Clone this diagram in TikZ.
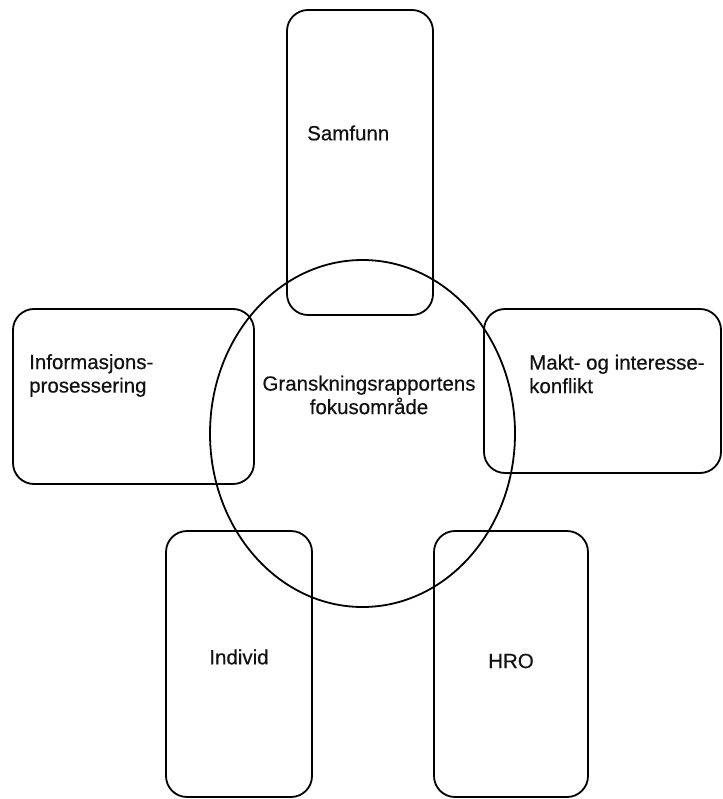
\documentclass[tikz,border=0pt]{standalone}
\usepackage{fontspec}
\setmainfont{Liberation Sans}
\newfontfamily\lblfont[FakeBold=0.4]{Liberation Sans}
\usepackage{xcolor,tikz}
\definecolor{ink}{HTML}{000000}
\definecolor{txt}{HTML}{111111}
\newcommand{\lbl}{\lblfont\fontsize{20.5}{23.5}\selectfont}
\tikzset{
  box/.style={draw=ink,line width=1.8pt,rounded corners=21pt},
  ring/.style={draw=ink,line width=1.8pt},
  tag/.style={inner sep=0,font=\lbl,text=txt}
}

\begin{document}
\begin{tikzpicture}[x=1pt,y=-1pt]
\useasboundingbox (0,0) rectangle (722,799);
\draw[box] (287,10) rectangle (433,315);
\node[tag,anchor=west] (samfunn) at (307,133) {Samfunn};
\draw[box] (13,309) rectangle (254,484);
\node[tag,anchor=west,align=left] (info) at (29,375.5) {Informasjons-\\prosessering};
\draw[box] (484,309) rectangle (721,473);
\node[tag,anchor=west,align=left] (makt) at (529,374) {Makt- og interesse-\\konflikt};
\draw[box] (166,531) rectangle (312,797);
\node[tag] (individ) at (239,657) {Individ};
\draw[box] (434,531) rectangle (588,797);
\node[tag] (hro) at (511,661) {HRO};
\draw[ring] (362.5,433.5) ellipse [x radius=152.5,y radius=173.5];
\node[tag,align=center] (fokus) at (369,395) {Granskningsrapportens\\fokusområde};
\end{tikzpicture}
\end{document}
